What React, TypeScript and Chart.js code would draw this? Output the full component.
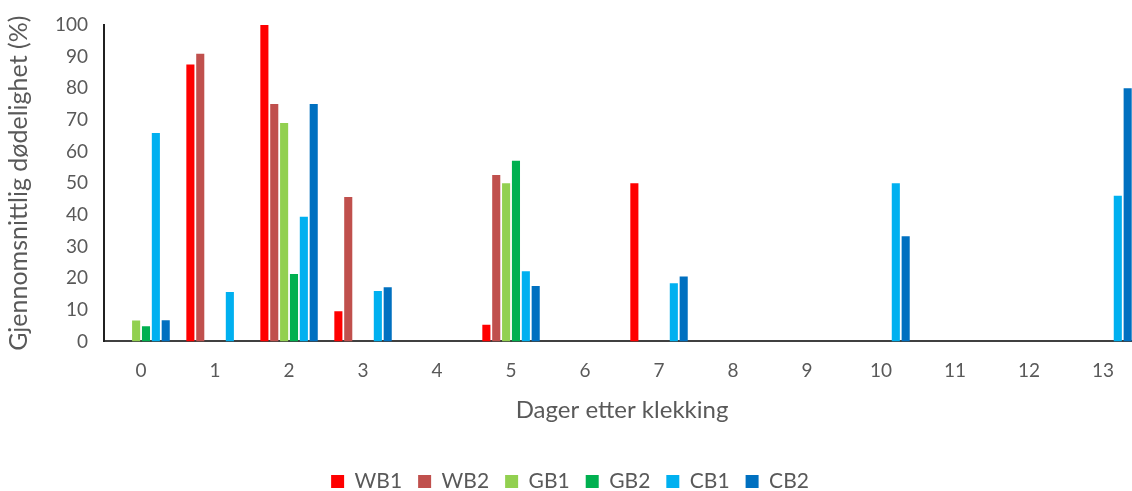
import React, { useEffect, useRef } from "react";
import { Chart, registerables } from "chart.js";

Chart.register(...registerables);

const categories = ["0", "1", "2", "3", "4", "5", "6", "7", "8", "9", "10", "11", "12", "13"];
const WB1 = [null, 87.5, 100, 9.5, null, 5.3, null, 50, null, null, null, null, null, null];
const WB2 = [null, 90.9, 75, 45.6, null, 52.6, null, null, null, null, null, null, null, null];
const GB1 = [6.6, null, 69, null, null, 50, null, null, null, null, null, null, null, null];
const GB2 = [4.8, null, 21.3, null, null, 57.1, null, null, null, null, null, null, null, null];
const CB1 = [65.9, 15.6, 39.4, 15.9, null, 22.2, null, 18.4, null, null, 50, null, null, 46];
const CB2 = [6.7, null, 75, 17.1, null, 17.5, null, 20.5, null, null, 33.2, null, null, 80];
const yTicks = [0, 10, 20, 30, 40, 50, 60, 70, 80, 90, 100];

const seriesNames = ["WB1", "WB2", "GB1", "GB2", "CB1", "CB2"];
const seriesData = [WB1, WB2, GB1, GB2, CB1, CB2];
const seriesColors = ["#FF0000", "#C0504D", "#92D050", "#00B050", "#00B0F0", "#0070C0"];

const FONT = "Lato, 'Open Sans', sans-serif";
const GREY = "#595959";

export default function App() {
  const ref = useRef<HTMLCanvasElement>(null);
  useEffect(() => {
    if (!ref.current) return;
    const chart = new Chart(ref.current, {
      type: "bar",
      data: {
        labels: categories,
        datasets: seriesNames.map((n, i) => ({
          label: n,
          data: seriesData[i],
          backgroundColor: seriesColors[i],
          borderWidth: 0,
          categoryPercentage: 0.8,
          barPercentage: 0.82,
        })),
      },
      options: {
        responsive: false,
        animation: false,
        layout: { padding: { top: 25, right: 0, left: 0, bottom: 2 } },
        plugins: {
          tooltip: { enabled: false },
          legend: {
            position: "bottom",
            labels: {
              boxWidth: 13,
              boxHeight: 13,
              padding: 16,
              color: GREY,
              font: { family: FONT, size: 21 },
            },
          },
        },
        scales: {
          x: {
            offset: true,
            grid: { display: false },
            border: { display: true, color: "#404040", width: 2 },
            ticks: { color: GREY, font: { family: FONT, size: 19 }, padding: 10, maxRotation: 0 },
            title: {
              display: true,
              text: "Dager etter klekking",
              color: GREY,
              font: { family: FONT, size: 24 },
              padding: { top: 4, bottom: 30 },
            },
          },
          y: {
            min: 0,
            max: 100,
            afterBuildTicks: (axis: any) => {
              axis.ticks = yTicks.map((v) => ({ value: v }));
            },
            grid: { display: false },
            border: { display: true, color: "#202020", width: 2 },
            ticks: { color: GREY, font: { family: FONT, size: 19 }, padding: 8 },
            title: {
              display: true,
              text: "Gjennomsnittlig dødelighet (%)",
              color: GREY,
              font: { family: FONT, size: 25 },
              padding: { top: 4, bottom: 13 },
            },
          },
        },
      },
    });
    return () => chart.destroy();
  }, []);
  return (
    <div style={{ position: "absolute", left: 0, top: 0, width: 1132, height: 491, overflow: "hidden", background: "#fff" }}>
      <canvas ref={ref} width={1140} height={504} />
    </div>
  );
}
